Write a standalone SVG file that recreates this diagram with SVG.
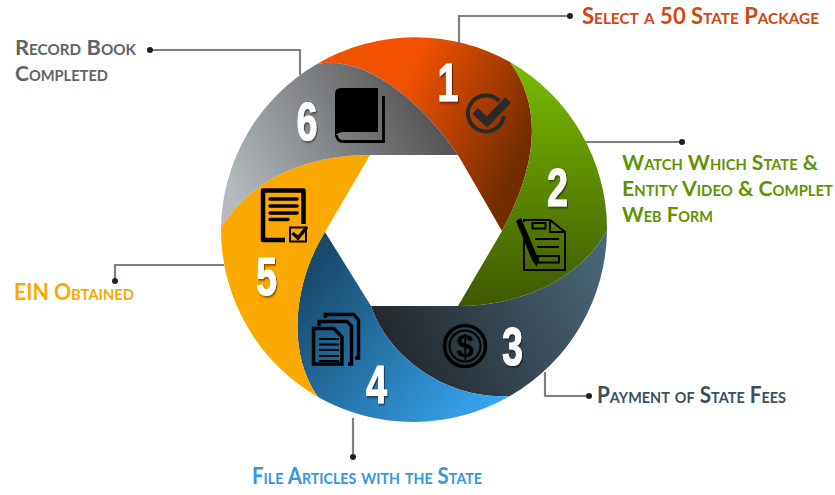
<svg xmlns="http://www.w3.org/2000/svg" width="835" height="495" viewBox="0 0 835 495">
<style>
.lb{font-family:"Lato","Open Sans","Liberation Sans",sans-serif;font-weight:700;font-variant:small-caps;font-size:23px}
.lm{font-size:21.5px}
.num{font-family:"Liberation Sans",Arial,sans-serif;font-weight:700;font-size:54px;fill:#fff;stroke:#fff;stroke-width:1;text-anchor:middle;filter:url(#sh)}
.con{fill:none;stroke:#808080;stroke-width:2.2;marker-end:url(#dot)}
.ln{fill:none;stroke:#000;stroke-linecap:round}
</style>
<defs>
<marker id="dot" markerUnits="userSpaceOnUse" markerWidth="8" markerHeight="8" refX="4" refY="4"><circle cx="4" cy="4" r="3" fill="#1c2128"/></marker>
<filter id="sh" x="-20%" y="-20%" width="150%" height="150%"><feDropShadow dx="1.500" dy="1.500" stdDeviation="0.800" flood-color="#000" flood-opacity=".55"/></filter>
<linearGradient id="g1" gradientUnits="userSpaceOnUse" x1="400" y1="90" x2="525" y2="150"><stop offset="0" stop-color="#f25200"/><stop offset="1" stop-color="#722c00"/></linearGradient>
<linearGradient id="g2" gradientUnits="userSpaceOnUse" x1="0" y1="62" x2="0" y2="306"><stop offset="0" stop-color="#7abb00"/><stop offset="1" stop-color="#3f5800"/></linearGradient>
<linearGradient id="g3" gradientUnits="userSpaceOnUse" x1="390" y1="340" x2="600" y2="250"><stop offset="0" stop-color="#23292f"/><stop offset="1" stop-color="#4a6676"/></linearGradient>
<linearGradient id="g4" gradientUnits="userSpaceOnUse" x1="310" y1="270" x2="490" y2="410"><stop offset="0" stop-color="#174a6b"/><stop offset="1" stop-color="#37a6f2"/></linearGradient>
<linearGradient id="g6" gradientUnits="userSpaceOnUse" x1="240" y1="210" x2="430" y2="110"><stop offset="0" stop-color="#b4babd"/><stop offset="1" stop-color="#545556"/></linearGradient>
</defs>
<rect width="835" height="495" fill="#fff"/>
<g id="connectors">
<polyline class="con" points="459,43 459,16 570,16"/>
<polyline class="con" points="585,142 682,142"/>
<polyline class="con" points="545,372 545,396 589,396"/>
<polyline class="con" points="353,418 353,457"/>
<polyline class="con" points="224,265 115,265 115,281"/>
<polyline class="con" points="300,75 300,50 150,50"/>
</g>
<g id="node-1">
<path fill="url(#g1)" d="M317 64A193.5 193.5 0 0 1 510 62C545 110 535 170 502 231L458 155C420 100 365 55 317 64Z"/>
<path fill="none" stroke="#2a2a2a" stroke-width="4" d="M499 101A18 18 0 1 0 503.800 116"/>
<path fill="none" stroke="#2a2a2a" stroke-width="8" d="M475 111L487 122L508 100"/>
<text class="num" transform="translate(448 100.500) scale(.7 1)">1</text>
<text class="lb" x="582" y="24" fill="#d2470f" textLength="237" lengthAdjust="spacingAndGlyphs">Select a 50 State Package</text>
</g>
<g id="node-2">
<path fill="url(#g2)" d="M510 62A193.5 193.5 0 0 1 607 230C580 280 520 306 458 306L502 231C535 170 545 110 510 62Z"/>
<path fill="none" stroke="#000" stroke-width="2" d="M524 222V220H550L565 232V270H524V236M550 220V232H565"/>
<rect x="532.500" y="223" width="13" height="5.500" fill="none" stroke="#000" stroke-width="2"/>
<path fill="none" stroke="#000" stroke-width="2" d="M535 239H559M537 247H559"/>
<rect x="538" y="256" width="21" height="6.500" fill="none" stroke="#000" stroke-width="2"/>
<path d="M516 221L521 218L538 258L537 267L532 260Z"/>
<text class="num" transform="translate(557.500 205.500) scale(.7 1)">2</text>
<g class="lb lm" fill="#5f9400">
<text x="622" y="169.500" textLength="196" lengthAdjust="spacingAndGlyphs">Watch Which State &amp;</text>
<text x="622" y="195.500" textLength="211" lengthAdjust="spacingAndGlyphs">Entity Video &amp; Complet</text>
<text x="622" y="221.500" textLength="91" lengthAdjust="spacingAndGlyphs">Web Form</text>
</g>
</g>
<g id="node-3">
<path fill="url(#g3)" d="M371 306H458C520 306 580 280 607 230A193.5 193.5 0 0 1 510 396C440 400 385 350 371 306Z"/>
<circle cx="465" cy="346" r="20.500" fill="none" stroke="#000" stroke-width="3.500"/>
<circle cx="465" cy="346" r="15.500" fill="none" stroke="#000" stroke-width="2"/>
<text x="465" y="357" font-family="Liberation Sans, sans-serif" font-weight="700" font-size="31" text-anchor="middle" fill="#000">$</text>
<text class="num" transform="translate(512.500 364.500) scale(.7 1)">3</text>
<text class="lb" x="597" y="403" fill="#3c4f5e" textLength="189" lengthAdjust="spacingAndGlyphs">Payment of State Fees</text>
</g>
<g id="node-4">
<path fill="url(#g4)" d="M325 232L371 306C385 350 440 400 510 396A193.5 193.5 0 0 1 318 397C285 350 295 280 325 232Z"/>
<path fill="none" stroke="#000" stroke-width="3.500" d="M313.500 328.500H334L342 337V364H313.500Z"/>
<path fill="none" stroke="#000" stroke-width="3.500" d="M319 326V321.500H347L351.500 326V364H348"/>
<path fill="none" stroke="#000" stroke-width="3.500" d="M325.500 318V314.500H354L358.500 320V358H355"/>
<path fill="none" stroke="#000" stroke-width="2" d="M319 339H339M319 344.500H339M319 350H339M319 356H339M319 361H339"/>
<text class="num" transform="translate(376.500 402.500) scale(.7 1)">4</text>
<text class="lb" x="252" y="484" fill="#3498dc" textLength="230" lengthAdjust="spacingAndGlyphs">File Articles with the State</text>
</g>
<g id="node-5">
<path fill="#fba800" d="M221 228A193.5 193.5 0 0 0 318 397C285 350 295 280 325 232L370 155C305 155 250 180 221 228Z"/>
<path fill="none" stroke="#000" stroke-width="4.500" stroke-linejoin="round" d="M285 240H263V190.500H303.500V224"/>
<path class="ln" stroke-width="3.500" d="M270 199H297M270 206H297M270 213H297M270 219.500H288"/>
<rect x="290" y="227.500" width="16" height="14" fill="none" stroke="#000" stroke-width="2"/>
<path fill="none" stroke="#000" stroke-width="3.500" d="M292.500 233L298 238L307 227"/>
<text class="num" transform="translate(266.500 294.500) scale(.7 1)">5</text>
<text class="lb" x="14" y="300" fill="#fba800" textLength="120" lengthAdjust="spacingAndGlyphs">EIN Obtained</text>
</g>
<g id="node-6">
<path fill="url(#g6)" d="M317 64A193.5 193.5 0 0 0 221 228C250 180 305 155 370 155H458C420 100 365 55 317 64Z"/>
<path d="M335 94Q335 88 341 88H378V132H343Q335 133 335 137Z"/>
<path fill="none" stroke="#000" stroke-width="2.800" d="M383.500 96V141.500H344Q336.500 141.500 336.500 135"/>
<text class="num" transform="translate(307 139.500) scale(.7 1)">6</text>
<g class="lb lm" fill="#5f6468">
<text x="15" y="55" textLength="121" lengthAdjust="spacingAndGlyphs">Record Book</text>
<text x="15" y="81" textLength="93" lengthAdjust="spacingAndGlyphs">Completed</text>
</g>
</g>
</svg>
